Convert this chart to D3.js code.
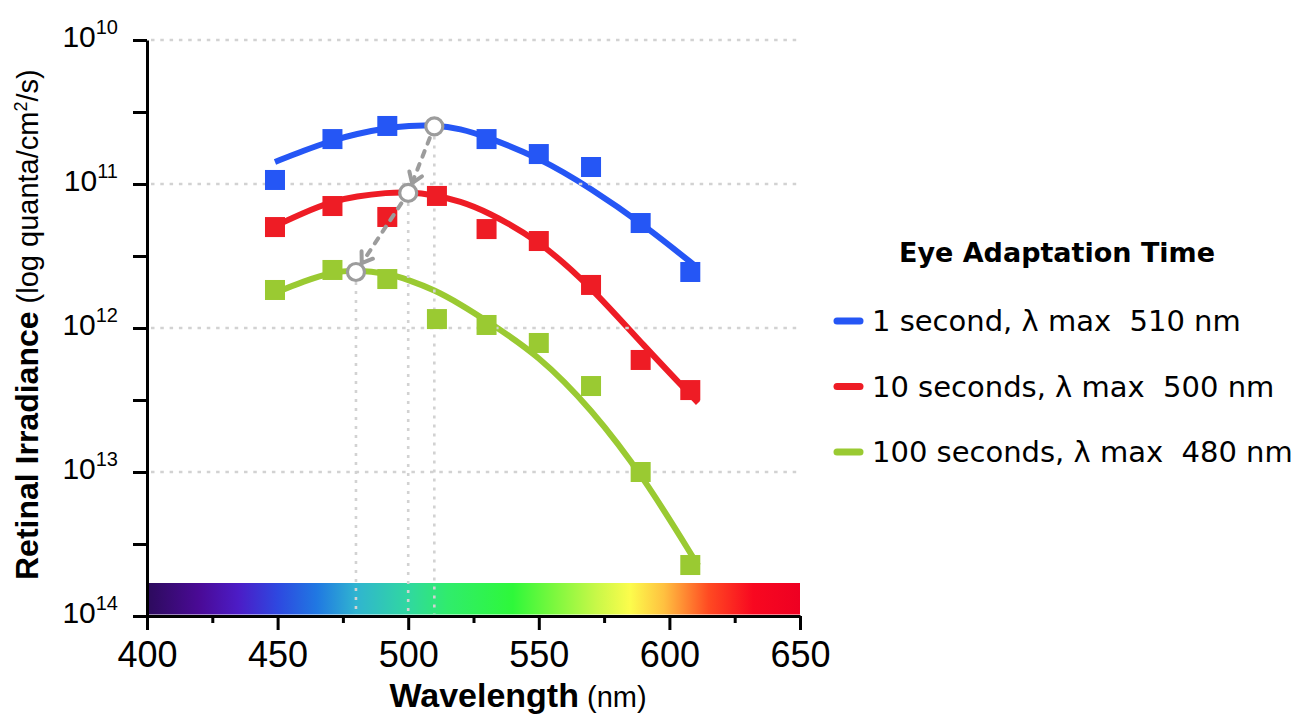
<!DOCTYPE html>
<html>
<head>
<meta charset="utf-8">
<script src="https://cdn.jsdelivr.net/npm/d3@7"></script>
<style>
  body { margin: 0; background: #fff; }
  svg { display: block; }
  .tick text { font-family: "Liberation Sans", Arial, Helvetica, sans-serif; fill: #000; }
  .legend text { font-family: "DejaVu Sans", Verdana, sans-serif; white-space: pre; }
</style>
</head>
<body>
<svg id="chart" width="1295" height="715"></svg>
<script>
// measured points (wavelength in nm, irradiance as log10 quanta/cm2/s)
const wavelengths = [449, 471, 492, 511, 530, 550, 570, 589, 608];
const blueValues  = [10.972, 10.688, 10.597, null, 10.688, 10.792, 10.882, 11.271, 11.611];
const redValues   = [11.299, 11.153, 11.229, 11.083, 11.313, 11.396, 11.701, 12.222, 12.431];
const greenValues = [11.736, 11.597, 11.660, 11.938, 11.979, 12.104, 12.403, 13.000, 13.646];

// fitted curves
const fitWavelengths = [449, 460, 471, 480, 492, 500, 510, 520, 530, 550, 570, 590, 611];
const blueFit  = [10.847, 10.768, 10.697, 10.652, 10.610, 10.595, 10.590, 10.615, 10.672, 10.815, 11.030, 11.280, 11.585];
const redFit   = [11.292, 11.198, 11.120, 11.085, 11.060, 11.055, 11.076, 11.120, 11.190, 11.390, 11.715, 12.120, 12.520];
const greenFit = [11.757, 11.675, 11.612, 11.596, 11.620, 11.665, 11.735, 11.835, 11.950, 12.190, 12.560, 13.030, 13.650];

// lambda max markers
const peakWavelengths = [510, 500, 480];
const peakValues      = [10.60, 11.062, 11.611];

const seriesNames  = ['1 second, \u03bb max  510 nm', '10 seconds, \u03bb max  500 nm', '100 seconds, \u03bb max  480 nm'];
const seriesColors = ['#2556f5', '#ee1c25', '#9aca32'];

const xTicks      = [400, 450, 500, 550, 600, 650];
const xMinorTicks = [425, 475, 525, 575, 625];
const yTicks      = [10, 11, 12, 13, 14];
const yMinorTicks = [10.5, 11.5, 12.5, 13.5];

// visible spectrum under the axis
const spectrumNm     = [400, 420, 435, 450, 465, 480, 500, 515, 540, 556, 572, 585, 598, 615, 632, 650];
const spectrumColors = ['#2c0b5c', '#4a0a96', '#4c1cc6', '#2e48e0', '#2078e2', '#30b4d0', '#30d8a0', '#30ec6c',
                        '#2ef83a', '#7cf83e', '#c8f848', '#fcfc4c', '#ffc040', '#ff4a22', '#f80820', '#ee0022'];

const svg = d3.select('#chart');
const x = d3.scaleLinear().domain([400, 650]).range([147, 800]);
const y = d3.scaleLinear().domain([10, 14]).range([40, 616]);

// spectrum bar
const grad = svg.append('defs').append('linearGradient')
    .attr('id', 'spectrum').attr('x1', '0%').attr('x2', '100%');
grad.selectAll('stop').data(spectrumNm).join('stop')
    .attr('offset', d => ((d - 400) / 250 * 100) + '%')
    .attr('stop-color', (d, i) => spectrumColors[i]);
svg.append('rect')
    .attr('x', x(400)).attr('y', 583)
    .attr('width', x(650) - x(400)).attr('height', y(14) - 583 - 1.5)
    .attr('fill', 'url(#spectrum)');

// curves
const series = [
  { values: blueValues,  fit: blueFit },
  { values: redValues,   fit: redFit },
  { values: greenValues, fit: greenFit }
];
const line = d3.line()
    .x((d, i) => x(fitWavelengths[i]))
    .y(d => y(d))
    .curve(d3.curveBasis);
svg.append('g').selectAll('path').data(series).join('path')
    .attr('d', d => line(d.fit))
    .attr('fill', 'none')
    .attr('stroke', (d, i) => seriesColors[i])
    .attr('stroke-width', 6);

// dotted grid
svg.append('g').selectAll('line').data(yTicks.slice(0, 4)).join('line')
    .attr('x1', 151).attr('x2', 800)
    .attr('y1', d => y(d)).attr('y2', d => y(d))
    .attr('stroke', '#d2d2d2').attr('stroke-width', 2.6)
    .attr('stroke-dasharray', '3.5,5.8');

// vertical drop lines from the lambda max markers
svg.append('g').selectAll('line').data(peakWavelengths).join('line')
    .attr('x1', d => x(d)).attr('x2', d => x(d))
    .attr('y1', (d, i) => y(peakValues[i]) + 10).attr('y2', y(14) - 2)
    .attr('stroke', '#d2d2d2').attr('stroke-width', 2.6)
    .attr('stroke-dasharray', '3,6');

// squares
const sq = 20;
series.forEach((s, k) => {
  svg.append('g').selectAll('rect')
     .data(s.values.map((v, i) => ({ w: wavelengths[i], v: v })).filter(d => d.v !== null))
     .join('rect')
     .attr('x', d => x(d.w) - sq / 2).attr('y', d => y(d.v) - sq / 2)
     .attr('width', sq).attr('height', sq)
     .attr('fill', seriesColors[k]);
});

// arrows between the markers
const gray = '#9c9c9c';
const r = 8.5;
const pts = peakWavelengths.map((w, i) => [x(w), y(peakValues[i])]);
for (let i = 0; i < pts.length - 1; i++) {
  const p1 = pts[i], p2 = pts[i + 1];
  const dx = p2[0] - p1[0], dy = p2[1] - p1[1];
  const len = Math.sqrt(dx * dx + dy * dy);
  const ux = dx / len, uy = dy / len;
  const s = [p1[0] + ux * (r + 4), p1[1] + uy * (r + 4)];
  const e = [p2[0] - ux * (r + 2), p2[1] - uy * (r + 2)];
  svg.append('line')
     .attr('x1', s[0]).attr('y1', s[1]).attr('x2', e[0]).attr('y2', e[1])
     .attr('stroke', gray).attr('stroke-width', 4)
     .attr('stroke-linecap', 'round').attr('stroke-dasharray', '6,8');
  const a = 0.6, al = 12;
  const c1 = [e[0] - al * (ux * Math.cos(a) - uy * Math.sin(a)), e[1] - al * (uy * Math.cos(a) + ux * Math.sin(a))];
  const c2 = [e[0] - al * (ux * Math.cos(a) + uy * Math.sin(a)), e[1] - al * (uy * Math.cos(a) - ux * Math.sin(a))];
  svg.append('polyline')
     .attr('points', [c1, e, c2].map(p => p.join(',')).join(' '))
     .attr('fill', 'none').attr('stroke', gray).attr('stroke-width', 4)
     .attr('stroke-linecap', 'round').attr('stroke-linejoin', 'round');
}
svg.append('g').selectAll('circle').data(pts).join('circle')
    .attr('cx', d => d[0]).attr('cy', d => d[1]).attr('r', r)
    .attr('fill', '#fff').attr('stroke', gray).attr('stroke-width', 3.2);

// axes
function styleAxis(g) {
  g.selectAll('path.domain').attr('stroke', '#000').attr('stroke-width', 3);
  g.selectAll('.tick line').attr('stroke', '#000').attr('stroke-width', 3);
}
const xAxis = svg.append('g').attr('transform', `translate(0,${y(14)})`)
    .call(d3.axisBottom(x).tickValues(xTicks).tickSize(14).tickSizeOuter(0).tickPadding(11));
xAxis.selectAll('.tick text').attr('font-size', 36);
styleAxis(xAxis);
const xMinor = svg.append('g').attr('transform', `translate(0,${y(14)})`)
    .call(d3.axisBottom(x).tickValues(xMinorTicks).tickSize(7).tickFormat(''));
xMinor.select('.domain').remove();
styleAxis(xMinor);

const yAxis = svg.append('g').attr('transform', `translate(${x(400)},0)`)
    .call(d3.axisLeft(y).tickValues(yTicks).tickSize(14).tickSizeOuter(0).tickPadding(15));
yAxis.selectAll('.tick text').each(function(d) {
  const t = d3.select(this);
  t.text(null).attr('font-size', 30).attr('dy', '0.2em');
  t.append('tspan').text('10');
  t.append('tspan').attr('dy', -13).attr('font-size', 20).text(d);
});
styleAxis(yAxis);
const yMinor = svg.append('g').attr('transform', `translate(${x(400)},0)`)
    .call(d3.axisLeft(y).tickValues(yMinorTicks).tickSize(14).tickFormat(''));
yMinor.select('.domain').remove();
styleAxis(yMinor);

// axis titles
const font = '"Liberation Sans", Arial, Helvetica, sans-serif';
const xt = svg.append('text').attr('x', 518).attr('y', 707)
    .attr('text-anchor', 'middle').attr('font-family', font);
xt.append('tspan').attr('font-weight', 'bold').attr('font-size', 34).text('Wavelength');
xt.append('tspan').attr('font-size', 29).text(' (nm)');

const yt = svg.append('text').attr('transform', 'translate(38,580) rotate(-90)')
    .attr('font-family', font);
yt.append('tspan').attr('font-weight', 'bold').attr('font-size', 32).text('Retinal Irradiance');
yt.append('tspan').attr('font-size', 29).text(' (log quanta/cm');
yt.append('tspan').attr('font-size', 18).attr('dy', -11).text('2');
yt.append('tspan').attr('font-size', 29).attr('dy', 11).text('/s)');

// legend
const legend = svg.append('g').attr('class', 'legend');
legend.append('text').attr('x', 1057).attr('y', 262)
    .attr('text-anchor', 'middle').attr('font-weight', 'bold').attr('font-size', 27)
    .text('Eye Adaptation Time');
const items = legend.selectAll('g.item').data(seriesNames).join('g')
    .attr('class', 'item')
    .attr('transform', (d, i) => `translate(0,${321 + i * 65.5})`);
items.append('line')
    .attr('x1', 837).attr('x2', 860).attr('y1', 0).attr('y2', 0)
    .attr('stroke', (d, i) => seriesColors[i]).attr('stroke-width', 7)
    .attr('stroke-linecap', 'round');
items.append('text').attr('x', 872).attr('y', 10)
    .attr('font-size', 29).text(d => d);
</script>
</body>
</html>
